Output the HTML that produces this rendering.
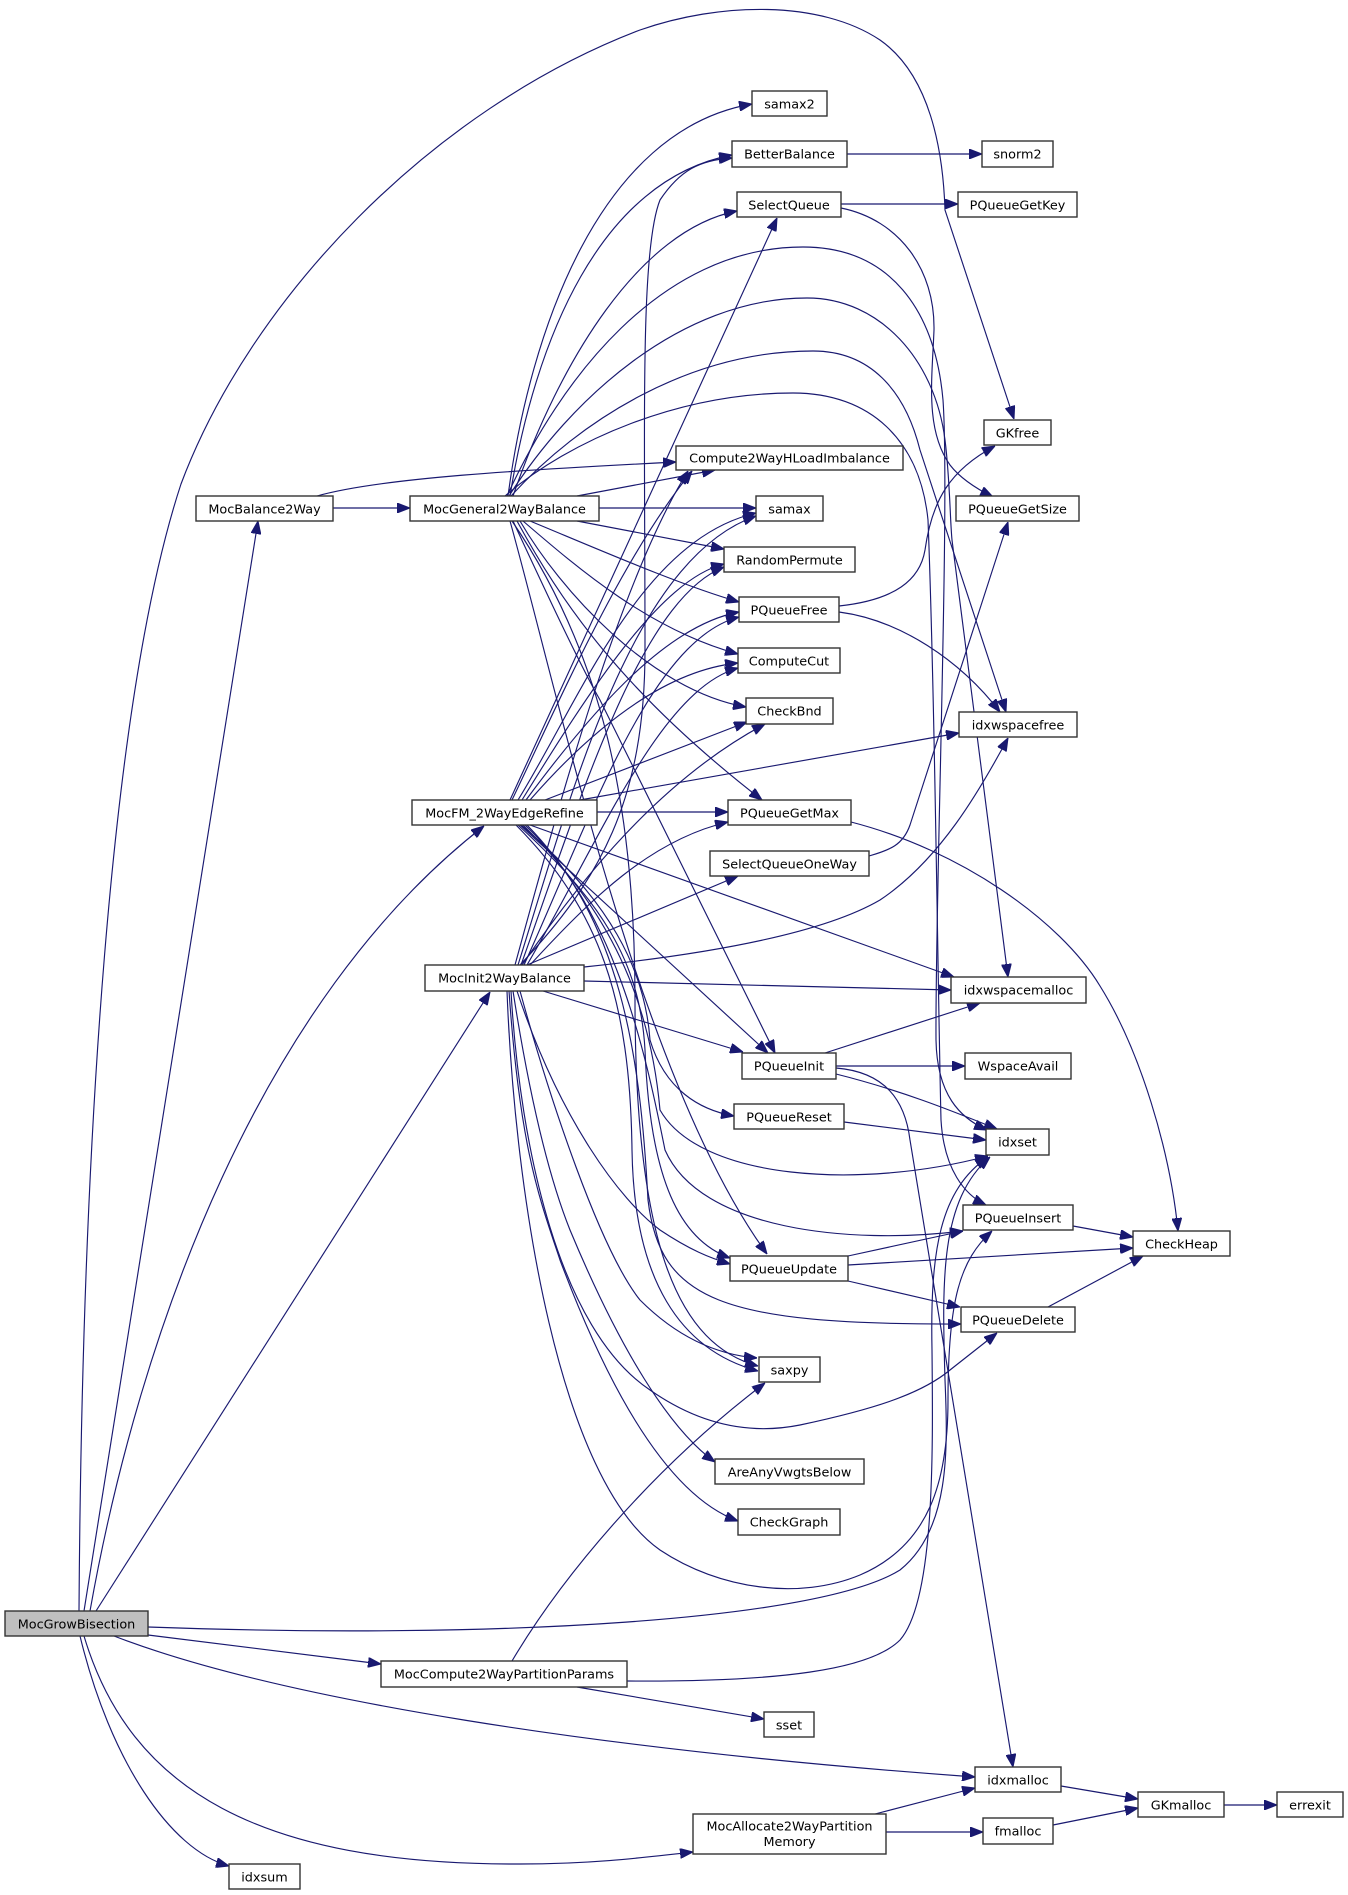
<!DOCTYPE html>
<html><head><meta charset="utf-8"><style>
html,body{margin:0;padding:0;background:#fff;}
svg{display:block;}
text{font-family:"DejaVu Sans","Liberation Sans",sans-serif;font-size:12.8px;fill:#000;}
.n{fill:#fff;stroke:#333;stroke-width:1.4;}
.e{fill:none;stroke:#191970;stroke-width:1.15;marker-end:url(#a);}
</style></head><body>
<svg width="1348" height="1895" viewBox="0 0 1348 1895" xmlns="http://www.w3.org/2000/svg">
<defs><marker id="a" markerWidth="13" markerHeight="10" refX="13" refY="5" orient="auto" markerUnits="userSpaceOnUse"><path d="M0,0 L13,5 L0,10 z" fill="#191970" stroke="#191970" stroke-width="1"/></marker></defs>
<rect width="1348" height="1895" fill="#fff"/>
<g>
<path class="e" d="M79,1611 C 82,1150 110,700 181,484 C 250,300 430,110 640,30 C 720,2 820,0 880,40 C 930,75 943,150 945,210 L 1014,419"/>
<path class="e" d="M84,1611 L 258,521"/>
<path class="e" d="M90,1611 C 140,1330 260,1000 484,826"/>
<path class="e" d="M96,1611 L 490,992"/>
<path class="e" d="M148,1627 C 500,1640 820,1620 900,1570 C 950,1530 948,1450 945,1380 C 942,1280 940,1200 990,1157"/>
<path class="e" d="M148,1635 L 381,1664"/>
<path class="e" d="M114,1636 C 280,1700 600,1750 975,1777"/>
<path class="e" d="M84,1636 C 130,1790 260,1865 520,1864 C 590,1864 640,1858 693,1852"/>
<path class="e" d="M80,1636 C 110,1760 170,1850 229,1866"/>
<path class="e" d="M333,508 L 410,508"/>
<path class="e" d="M317,496 C 380,478 520,470 676,462"/>
<path class="e" d="M508,496 C 530,330 600,130 752,104"/>
<path class="e" d="M510,496 C 535,340 600,180 732,155"/>
<path class="e" d="M513,496 C 560,360 640,230 737,211"/>
<path class="e" d="M577,496 L 715,470"/>
<path class="e" d="M599,508 L 756,508"/>
<path class="e" d="M577,521 L 724,549"/>
<path class="e" d="M530,521 C 600,550 680,585 739,602"/>
<path class="e" d="M523,521 C 580,570 650,630 738,654"/>
<path class="e" d="M520,521 C 560,590 650,690 746,707"/>
<path class="e" d="M517,521 C 560,600 620,690 762,800"/>
<path class="e" d="M513,521 C 545,590 580,665 600,700 L 775,1053"/>
<path class="e" d="M510,521 C 560,700 640,1080 767,1254"/>
<path class="e" d="M512,521 C 600,650 635,800 635,1000 C 635,1250 680,1345 758,1366"/>
<path class="e" d="M507,496 C 560,380 660,247 803,247 C 890,247 935,310 943,400 C 950,500 935,900 936,1040 C 937,1095 960,1118 987,1130"/>
<path class="e" d="M509,496 C 570,400 680,298 807,298 C 880,298 935,360 945,440 C 950,480 950,520 952,540 L 1008,977"/>
<path class="e" d="M511,496 C 580,420 690,351 813,351 C 870,351 905,390 920,450 L 1006,712"/>
<path class="e" d="M505,496 C 570,440 680,393 793,393 C 870,393 920,440 928,520 C 935,700 938,1000 941,1120 C 944,1170 965,1195 986,1205"/>
<path class="e" d="M512,800 C 560,700 620,560 692,471"/>
<path class="e" d="M518,800 C 580,700 640,540 756,513"/>
<path class="e" d="M522,800 C 590,690 660,580 724,564"/>
<path class="e" d="M526,800 C 600,700 670,625 739,612"/>
<path class="e" d="M530,800 C 600,720 670,670 738,663"/>
<path class="e" d="M545,800 L 747,722"/>
<path class="e" d="M580,800 L 959,733"/>
<path class="e" d="M510,800 L 777,218"/>
<path class="e" d="M597,812 L 728,812"/>
<path class="e" d="M530,825 L 954,977"/>
<path class="e" d="M520,825 L 768,1053"/>
<path class="e" d="M518,825 C 600,900 640,960 645,1050 C 650,1180 680,1240 730,1258"/>
<path class="e" d="M521,825 C 610,900 645,970 650,1040 C 665,1090 700,1110 734,1116"/>
<path class="e" d="M523,825 C 610,910 650,1000 660,1110 C 700,1180 860,1190 988,1156"/>
<path class="e" d="M525,825 C 615,910 645,1050 665,1150 C 700,1230 850,1245 963,1231"/>
<path class="e" d="M516,825 C 600,910 630,1000 632,1150 C 634,1280 680,1350 758,1371"/>
<path class="e" d="M527,825 C 620,920 640,1050 648,1200 C 660,1300 720,1325 961,1324"/>
<path class="e" d="M527,965 L 738,876"/>
<path class="e" d="M530,965 C 590,900 650,840 728,822"/>
<path class="e" d="M522,965 C 580,880 660,780 765,724"/>
<path class="e" d="M520,965 C 600,880 645,800 645,650 C 645,420 640,250 660,200 C 680,170 700,160 732,158"/>
<path class="e" d="M515,965 C 560,800 620,580 688,471"/>
<path class="e" d="M518,965 C 570,800 630,560 756,516"/>
<path class="e" d="M521,965 C 580,800 640,600 724,567"/>
<path class="e" d="M524,965 C 590,820 650,640 739,617"/>
<path class="e" d="M527,965 C 600,840 660,690 738,668"/>
<path class="e" d="M584,967 C 700,955 820,935 880,900 C 940,860 980,790 1008,738"/>
<path class="e" d="M584,981 L 951,990"/>
<path class="e" d="M543,991 L 743,1052"/>
<path class="e" d="M513,991 C 530,1100 550,1180 570,1230 C 620,1350 670,1430 715,1462"/>
<path class="e" d="M509,991 C 520,1150 540,1200 560,1260 C 620,1420 680,1500 738,1521"/>
<path class="e" d="M511,991 C 520,1150 560,1330 650,1390 C 700,1425 750,1435 800,1425 C 870,1410 920,1395 950,1370 L 997,1333"/>
<path class="e" d="M520,991 C 550,1100 600,1250 640,1300 C 680,1340 720,1355 757,1358"/>
<path class="e" d="M507,991 C 515,1200 560,1480 660,1550 C 720,1590 800,1600 860,1575 C 930,1545 948,1480 948,1400 C 948,1300 960,1260 992,1231"/>
<path class="e" d="M517,991 C 560,1120 620,1200 660,1230 C 690,1250 710,1258 730,1264"/>
<path class="e" d="M847,154 L 982,154"/>
<path class="e" d="M841,204 L 958,204"/>
<path class="e" d="M841,208 C 900,220 935,270 934,330 C 932,380 925,430 950,465 C 960,478 975,488 993,497"/>
<path class="e" d="M839,606 C 895,600 920,580 925,550 C 932,500 950,470 995,446"/>
<path class="e" d="M839,612 C 900,620 960,660 1000,712"/>
<path class="e" d="M869,856 C 890,850 903,845 910,825 L 1008,522"/>
<path class="e" d="M851,822 C 960,850 1060,920 1100,986 C 1140,1050 1170,1150 1178,1231"/>
<path class="e" d="M825,1053 L 980,1003"/>
<path class="e" d="M836,1066 L 965,1066"/>
<path class="e" d="M836,1074 C 900,1090 950,1110 997,1129"/>
<path class="e" d="M836,1068 C 885,1072 905,1100 910,1140 L 1013,1767"/>
<path class="e" d="M844,1122 L 986,1140"/>
<path class="e" d="M848,1256 L 963,1231"/>
<path class="e" d="M848,1265 L 1133,1248"/>
<path class="e" d="M848,1281 L 960,1307"/>
<path class="e" d="M1073,1226 L 1133,1237"/>
<path class="e" d="M1048,1307 L 1143,1256"/>
<path class="e" d="M512,1661 C 560,1580 650,1470 765,1383"/>
<path class="e" d="M577,1687 L 764,1719"/>
<path class="e" d="M627,1681 C 780,1682 870,1670 900,1640 C 935,1600 933,1450 932,1350 C 930,1250 940,1190 988,1157"/>
<path class="e" d="M875,1814 L 975,1788"/>
<path class="e" d="M886,1832 L 983,1832"/>
<path class="e" d="M1061,1786 L 1138,1799"/>
<path class="e" d="M1053,1825 L 1138,1808"/>
<path class="e" d="M1224,1805 L 1277,1805"/>
</g>
<g>
<rect x="5" y="1611" width="143" height="25" fill="#bfbfbf" stroke="#333" stroke-width="1.4"/><text x="76.5" y="1628.5" text-anchor="middle">MocGrowBisection</text>
<rect class="n" x="196" y="496" width="137" height="25"/><text x="264.5" y="513.5" text-anchor="middle">MocBalance2Way</text>
<rect class="n" x="410" y="496" width="189" height="25"/><text x="504.5" y="513.5" text-anchor="middle">MocGeneral2WayBalance</text>
<rect class="n" x="412" y="800" width="185" height="25"/><text x="504.5" y="817.5" text-anchor="middle">MocFM_2WayEdgeRefine</text>
<rect class="n" x="425" y="965" width="159" height="26"/><text x="504.5" y="982.5" text-anchor="middle">MocInit2WayBalance</text>
<rect class="n" x="381" y="1661" width="246" height="26"/><text x="504" y="1678.5" text-anchor="middle">MocCompute2WayPartitionParams</text>
<rect class="n" x="229" y="1864" width="71" height="25"/><text x="264.5" y="1881.5" text-anchor="middle">idxsum</text>
<rect class="n" x="693" y="1814" width="193" height="40"/><text x="789.5" y="1830.5" text-anchor="middle">MocAllocate2WayPartition</text><text x="789.5" y="1846" text-anchor="middle">Memory</text>
<rect class="n" x="752" y="91" width="75" height="25"/><text x="789.5" y="108.5" text-anchor="middle">samax2</text>
<rect class="n" x="732" y="141" width="115" height="26"/><text x="789.5" y="158.5" text-anchor="middle">BetterBalance</text>
<rect class="n" x="737" y="192" width="104" height="25"/><text x="789" y="209.5" text-anchor="middle">SelectQueue</text>
<rect class="n" x="676" y="446" width="227" height="24"/><text x="789.5" y="462.5" text-anchor="middle">Compute2WayHLoadImbalance</text>
<rect class="n" x="756" y="496" width="67" height="25"/><text x="789.5" y="513.5" text-anchor="middle">samax</text>
<rect class="n" x="724" y="547" width="131" height="25"/><text x="789.5" y="564.5" text-anchor="middle">RandomPermute</text>
<rect class="n" x="739" y="597" width="100" height="25"/><text x="789" y="614.5" text-anchor="middle">PQueueFree</text>
<rect class="n" x="738" y="648" width="102" height="25"/><text x="789" y="665.5" text-anchor="middle">ComputeCut</text>
<rect class="n" x="746" y="698" width="87" height="26"/><text x="789.5" y="715.5" text-anchor="middle">CheckBnd</text>
<rect class="n" x="728" y="800" width="123" height="25"/><text x="789.5" y="817.5" text-anchor="middle">PQueueGetMax</text>
<rect class="n" x="710" y="851" width="159" height="25"/><text x="789.5" y="868.5" text-anchor="middle">SelectQueueOneWay</text>
<rect class="n" x="742" y="1053" width="94" height="26"/><text x="789" y="1070.5" text-anchor="middle">PQueueInit</text>
<rect class="n" x="734" y="1104" width="110" height="25"/><text x="789" y="1121.5" text-anchor="middle">PQueueReset</text>
<rect class="n" x="730" y="1256" width="118" height="25"/><text x="789" y="1273.5" text-anchor="middle">PQueueUpdate</text>
<rect class="n" x="759" y="1357" width="61" height="25"/><text x="789.5" y="1374.5" text-anchor="middle">saxpy</text>
<rect class="n" x="715" y="1459" width="149" height="25"/><text x="789.5" y="1476.5" text-anchor="middle">AreAnyVwgtsBelow</text>
<rect class="n" x="738" y="1509" width="102" height="26"/><text x="789" y="1526.5" text-anchor="middle">CheckGraph</text>
<rect class="n" x="764" y="1712" width="50" height="25"/><text x="789" y="1729.5" text-anchor="middle">sset</text>
<rect class="n" x="982" y="141" width="71" height="26"/><text x="1017.5" y="158.5" text-anchor="middle">snorm2</text>
<rect class="n" x="958" y="192" width="119" height="25"/><text x="1017.5" y="209.5" text-anchor="middle">PQueueGetKey</text>
<rect class="n" x="984" y="420" width="67" height="25"/><text x="1017.5" y="437.5" text-anchor="middle">GKfree</text>
<rect class="n" x="956" y="496" width="123" height="25"/><text x="1017.5" y="513.5" text-anchor="middle">PQueueGetSize</text>
<rect class="n" x="959" y="712" width="118" height="25"/><text x="1018" y="729.5" text-anchor="middle">idxwspacefree</text>
<rect class="n" x="951" y="977" width="135" height="26"/><text x="1018.5" y="994.5" text-anchor="middle">idxwspacemalloc</text>
<rect class="n" x="965" y="1053" width="106" height="26"/><text x="1018" y="1070.5" text-anchor="middle">WspaceAvail</text>
<rect class="n" x="986" y="1129" width="63" height="26"/><text x="1017.5" y="1146.5" text-anchor="middle">idxset</text>
<rect class="n" x="963" y="1205" width="110" height="25"/><text x="1018" y="1222.5" text-anchor="middle">PQueueInsert</text>
<rect class="n" x="1133" y="1231" width="97" height="25"/><text x="1181.5" y="1248.5" text-anchor="middle">CheckHeap</text>
<rect class="n" x="961" y="1307" width="114" height="25"/><text x="1018" y="1324.5" text-anchor="middle">PQueueDelete</text>
<rect class="n" x="975" y="1767" width="86" height="25"/><text x="1018" y="1784.5" text-anchor="middle">idxmalloc</text>
<rect class="n" x="983" y="1818" width="70" height="26"/><text x="1018" y="1835.5" text-anchor="middle">fmalloc</text>
<rect class="n" x="1138" y="1792" width="86" height="25"/><text x="1181" y="1809.5" text-anchor="middle">GKmalloc</text>
<rect class="n" x="1277" y="1792" width="66" height="25"/><text x="1310" y="1809.5" text-anchor="middle">errexit</text>
</g>
</svg>
</body></html>
